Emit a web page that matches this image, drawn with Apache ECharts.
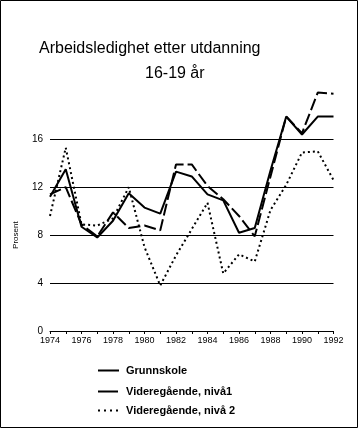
<!DOCTYPE html>
<html>
<head>
<meta charset="utf-8">
<script src="https://cdn.jsdelivr.net/npm/echarts@6/dist/echarts.min.js"></script>
<style>
html,body{margin:0;padding:0;background:#fff;}
#c{width:360px;height:430px;}
</style>
</head>
<body>
<div id="c"></div>
<script>
var years = ['1974','1975','1976','1977','1978','1979','1980','1981','1982','1983','1984','1985','1986','1987','1988','1989','1990','1991','1992'];
var grunnskole = [11.2,13.5,8.7,7.8,9.2,11.5,10.3,9.8,13.3,12.9,11.4,10.9,8.2,8.6,13.4,17.9,16.4,17.9,17.9];
var niva1 = [11.4,12.0,8.9,7.9,9.9,8.6,8.8,8.4,13.9,13.9,12.1,11.0,9.6,7.9,12.9,17.9,16.5,19.9,19.8];
var niva2 = [9.6,15.3,8.9,8.8,9.4,12.0,7.0,3.8,6.3,8.5,10.7,4.8,6.4,5.8,10.1,12.2,14.9,15.0,12.6];
var yTicks = [0,4,8,12,16];
var seriesNames = ['Grunnskole','Videregående, nivå1','Videregående, nivå 2'];
var titleLine1 = 'Arbeidsledighet etter utdanning';
var titleLine2 = '16-19 år';

var font = 'Liberation Sans';
var dashes = ['solid', [12, 4], [2, 3]];
var legendDashes = [null, [20, 4], [2, 4]];
var legendY = [370.5, 391.5, 410.5];

var legendGraphics = [];
seriesNames.forEach(function (n, i) {
  legendGraphics.push({
    type: 'line', silent: true,
    shape: {x1: 98, y1: legendY[i], x2: 119, y2: legendY[i]},
    style: {stroke: '#000', lineWidth: 2, lineDash: legendDashes[i]}
  });
  legendGraphics.push({
    type: 'text', silent: true, x: 126, y: legendY[i],
    style: {text: n, fill: '#000', font: 'bold 11px "Liberation Sans"', textVerticalAlign: 'middle', verticalAlign: 'middle'}
  });
});

var chart = echarts.init(document.getElementById('c'));
chart.setOption({
  animation: false,
  backgroundColor: '#fff',
  title: [
    {text: titleLine1, left: 34, top: 36, textStyle: {fontFamily: font, fontSize: 16, fontWeight: 'normal', color: '#000'}},
    {text: titleLine2, left: 140, top: 61, textStyle: {fontFamily: font, fontSize: 16, fontWeight: 'normal', color: '#000'}}
  ],
  graphic: [{
    type: 'rect', shape: {x: 0.5, y: 0.5, width: 357, height: 427},
    style: {fill: 'none', stroke: '#000', lineWidth: 1}, silent: true
  }].concat(legendGraphics),
  grid: {left: 50, right: 26.5, top: 139.3, bottom: 99, containLabel: false},
  xAxis: {
    type: 'category', data: years, boundaryGap: false,
    axisLine: {lineStyle: {color: '#000', width: 1}},
    axisTick: {interval: 0, length: 3, lineStyle: {color: '#000'}},
    axisLabel: {interval: 1, margin: 5, fontFamily: font, fontSize: 9, color: '#000'},
    splitLine: {show: false}
  },
  yAxis: {
    type: 'value', min: yTicks[0], max: yTicks[yTicks.length - 1], interval: 4,
    name: 'Prosent', nameLocation: 'middle', nameGap: 30, nameRotate: 90,
    nameTextStyle: {fontFamily: font, fontSize: 8, color: '#000'},
    axisLine: {show: false}, axisTick: {show: false},
    axisLabel: {margin: 7, fontFamily: font, fontSize: 10, color: '#000'},
    splitLine: {lineStyle: {color: '#000', width: 1}}
  },
  series: [
    {name: seriesNames[0], type: 'line', data: grunnskole, symbol: 'none', clip: false,
     lineStyle: {color: '#000', width: 2, type: dashes[0]}},
    {name: seriesNames[1], type: 'line', data: niva1, symbol: 'none', clip: false,
     lineStyle: {color: '#000', width: 2, type: dashes[1]}},
    {name: seriesNames[2], type: 'line', data: niva2, symbol: 'none', clip: false,
     lineStyle: {color: '#000', width: 2, type: dashes[2]}}
  ]
});
</script>
</body>
</html>
